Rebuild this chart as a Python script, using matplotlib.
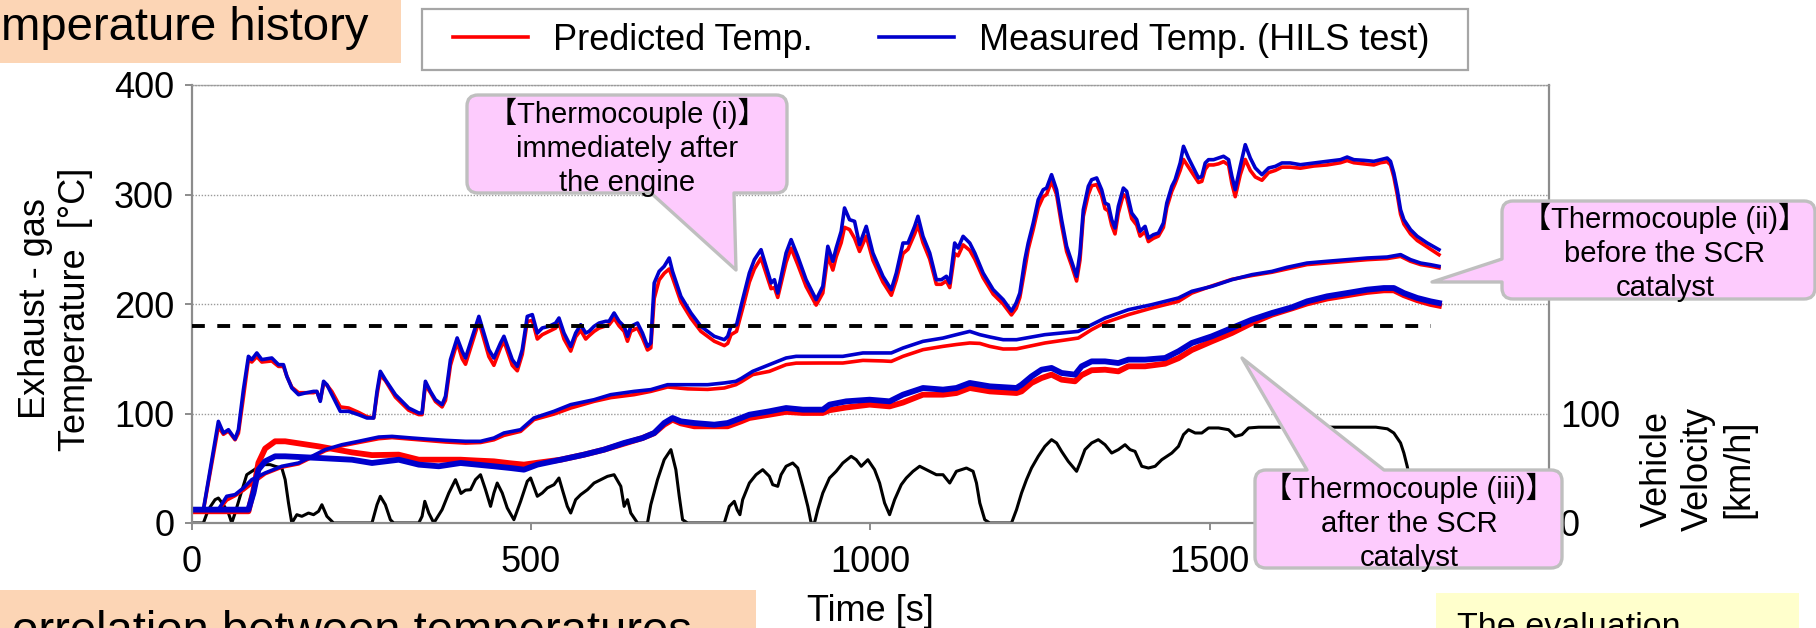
"""Exhaust-gas temperature history: predicted vs measured (HILS) at three thermocouples,
with vehicle velocity on the right axis.

Run:  python plot.py   ->  out.png (1816 x 628 px)
"""

import matplotlib

matplotlib.use("Agg")
import matplotlib.pyplot as plt
from matplotlib.patches import PathPatch, Rectangle
from matplotlib.path import Path

plt.rcParams["font.family"] = ["Liberation Sans", "Noto Sans CJK JP"]

W, H = 1816, 628  # canvas in px; layout numbers below are px from the top-left

# --- data: time [s] / temperature [degC] / velocity [km/h] ---
# Thermocouple (i): immediately after the engine
T_I = [0, 17.5, 39.6, 47, 54.4, 64.2, 69.1, 76.5, 83.9, 88.8,
       96.2, 103.6, 118.3, 128.2, 135.5, 140.5, 147.8, 157.7, 167.5, 179.8,
       184.7, 189.7, 194.6, 199.5, 206.9, 219.2, 231.5, 246.2, 258.5, 268.4,
       273.3, 278.2, 285.6, 300.4, 320, 334.8, 339.7, 344.6, 352, 359.4,
       369.2, 374.2, 381.5, 391.4, 398.8, 403.7, 423.4, 430.7, 438.1, 445.5,
       455.3, 460.3, 472.6, 480, 487.3, 494.7, 502.1, 509.5, 516.8, 526.7,
       536.5, 541.4, 548.8, 558.7, 566, 573.4, 580.8, 585.7, 593.1, 600.5,
       610.3, 615.2, 622.6, 630, 637.4, 642.3, 647.2, 657.1, 664.4, 671.8,
       676.7, 681.7, 689, 696.4, 703.8, 708.7, 721, 735.8, 750.5, 770.2,
       785, 790, 794.8, 803, 812, 821.9, 829.3, 839.1, 846.5, 853.9,
       858.8, 863.7, 876, 883.4, 893.2, 905.5, 920.3, 930.1, 937.5, 944.9,
       949.8, 957.2, 962.1, 969.5, 976.9, 984.2, 994.1, 1003.9, 1018.7, 1031,
       1038.4, 1048.2, 1055.6, 1065.4, 1070.3, 1077.7, 1087.6, 1097.4, 1104.8, 1112.2,
       1117.1, 1124.4, 1129.4, 1136.8, 1146.6, 1154, 1166.3, 1181.1, 1195.8, 1208,
       1215, 1220.4, 1227.8, 1232.7, 1240.1, 1247.5, 1254.8, 1259.8, 1267.1, 1274.5,
       1281.9, 1289.3, 1296.7, 1304, 1309, 1313.9, 1321.3, 1326.2, 1333.6, 1340.9,
       1345.9, 1350.8, 1355.7, 1360.6, 1365.5, 1372.9, 1377.8, 1385.2, 1392.6, 1397.5,
       1404.9, 1409.8, 1417.2, 1424.6, 1431.9, 1436.9, 1444.3, 1449.2, 1456.6, 1461.5,
       1468.9, 1476.2, 1483.6, 1488.5, 1493.5, 1498.4, 1505.8, 1513.1, 1520.5, 1527.9,
       1532.8, 1537.7, 1545.1, 1552.5, 1559.9, 1567.3, 1577.1, 1586.9, 1596.8, 1606.6,
       1618.9, 1633.7, 1653.4, 1673, 1692.7, 1702.6, 1712.4, 1727.2, 1741.9, 1751.8,
       1761.6, 1766.5, 1771.4, 1776.4, 1781.3, 1786.2, 1796, 1805.9, 1820.6, 1837.9]
MEAS_I = [12.2, 12.2, 92.8, 82.2, 85.2, 76.7, 85.2, 121.8, 152.2, 149.2,
          155.3, 149.2, 150.7, 144.6, 144.6, 133.9, 123.3, 117.2, 118.7, 120.2,
          120.2, 111.1, 129.4, 126.3, 117.2, 102, 102, 98.9, 95.9, 95.9,
          120.2, 138.5, 130.9, 117.2, 105, 100.5, 100.5, 129.4, 120.2, 112.6,
          108.1, 115.7, 149.2, 169, 156.8, 150.7, 188.7, 173.5, 158.3, 150.7,
          164.4, 170.5, 149.2, 143.1, 158.3, 188.7, 190.3, 173.5, 178.1, 179.6,
          182.6, 187.2, 173.5, 161.3, 173.5, 181.1, 173.5, 175, 179.6, 182.6,
          184.2, 184.2, 191.8, 184.2, 179.6, 170.5, 179.6, 182.6, 173.5, 161.3,
          164.4, 219.2, 229.8, 234.4, 242, 229.8, 207, 191.8, 179.6, 170.5,
          167.4, 170.5, 179.6, 181, 204, 228.3, 240.5, 249.6, 234.4, 219.2,
          222.2, 210, 246.6, 258.8, 243.5, 222.2, 204, 216.1, 252.7, 239,
          251.1, 266.4, 287.7, 277, 275.5, 254.2, 270.9, 246.6, 225.3, 213.1,
          228.3, 255.7, 255.7, 270.9, 280.1, 261.8, 246.6, 222.2, 222.2, 225.3,
          219.2, 255.7, 251.1, 261.8, 255.7, 246.6, 228.3, 213.1, 204, 193.5,
          201, 210, 240.5, 255.7, 274, 295.3, 304.4, 305.9, 318.1, 304.4,
          277, 252.7, 239, 225.3, 246.6, 286.1, 307.5, 313.5, 315.1, 304.4,
          292.2, 290.7, 277, 269.4, 289.2, 305.9, 302.9, 283.1, 277, 266.4,
          270.9, 260.3, 263.3, 264.8, 274, 292.2, 307.5, 313.5, 328.8, 344,
          333.3, 324.2, 315.1, 316.6, 328.8, 331.8, 331.8, 333.3, 334.9, 331.8,
          316.6, 304.4, 325.7, 345.5, 333.3, 324.2, 318.1, 324.2, 325.7, 328.8,
          328.8, 327.2, 328.8, 330.3, 331.8, 334.2, 331.8, 331.2, 330.3, 331.8,
          333.3, 330.3, 319.6, 304.4, 286.1, 277, 267.9, 261.8, 255.7, 249.6]
PRED_I = [11.5, 11.5, 88, 81, 84, 76, 82, 115, 149, 147,
          152, 147, 148, 143, 143, 134, 124, 119, 119, 119,
          120, 112, 127, 126, 120, 106, 105, 101, 97, 96,
          117, 135, 130, 115, 103, 99, 99, 126, 119, 111,
          106, 112, 144, 165, 150, 145, 184, 168, 152, 144,
          160, 166, 144, 139, 154, 184, 185, 168, 172, 175,
          178, 183, 168, 157, 170, 176, 168, 171, 175, 178,
          180, 181, 187, 180, 175, 166, 175, 178, 169, 158,
          160, 205, 222, 228, 232, 224, 202, 187, 175, 166,
          162, 164, 172, 175, 196, 220, 232, 242, 228, 214,
          215, 206, 238, 251, 236, 216, 199, 210, 244, 231,
          243, 256, 270, 268, 260, 248, 262, 240, 220, 208,
          222, 246, 250, 264, 272, 256, 241, 218, 218, 221,
          215, 246, 244, 254, 249, 241, 224, 209, 200, 190,
          196, 206, 232, 250, 268, 288, 298, 300, 312, 300,
          272, 248, 235, 221, 240, 280, 300, 308, 309, 299,
          287, 285, 272, 264, 283, 300, 297, 278, 272, 262,
          266, 257, 260, 262, 270, 288, 303, 310, 322, 332,
          325, 318, 311, 312, 323, 327, 327, 328, 330, 327,
          310, 298, 318, 332, 322, 316, 313, 320, 322, 325,
          325, 324, 326, 327, 329, 331, 329, 328, 327, 329,
          330, 327, 316, 300, 282, 273, 264, 258, 252, 245]

# Thermocouple (ii): before the SCR catalyst
T_II = [0, 39.6, 51.9, 64.2, 76.5, 88.8, 108.5, 133.1, 157.7, 177.4,
        197, 221.6, 246.2, 275.8, 295.4, 325, 344.6, 374.2, 403.7, 425.8,
        445.5, 460.3, 484.9, 504.5, 534.1, 558.7, 593.1, 617.7, 652.1, 676.7,
        701.4, 730.9, 760.4, 785, 802, 810, 826.8, 851.4, 876, 890.8,
        925.2, 959.6, 989.2, 1018.7, 1031, 1048.2, 1077.7, 1107.2, 1126.9, 1146.6,
        1161.4, 1176.1, 1195.8, 1215.5, 1257.3, 1306.5, 1326.2, 1345.9, 1380.3, 1414.7,
        1454.1, 1473.8, 1503.3, 1532.8, 1562.3, 1591.9, 1614, 1643.5, 1673, 1702.6,
        1732.1, 1761.6, 1781.3, 1796, 1810.8, 1825.6, 1837.9]
MEAS_II = [12.2, 12.2, 24.4, 25.9, 32, 39.6, 45.7, 51.8, 54.8, 60.9,
           67, 71.5, 74.6, 78.5, 79.1, 77.6, 76.7, 75.5, 74.6, 74.6,
           77.6, 82.2, 85.2, 95.9, 102, 108.1, 112.6, 117.2, 120.2, 121.8,
           126.3, 126.3, 126.3, 127.9, 129.4, 132, 138.5, 144.6, 150.7, 152.2,
           152.2, 152.2, 155.3, 155.3, 155.3, 159.8, 165.9, 168.9, 172, 175,
           172, 169.9, 167.4, 167.4, 172, 175, 181.1, 187.2, 194.8, 199.4,
           205.5, 211.6, 216.1, 222.2, 226.8, 229.8, 233.5, 237.4, 239, 240.5,
           242, 242.9, 245.1, 240.5, 237.4, 235.9, 234.4]
PRED_II = [11.5, 11.5, 21, 25, 30, 36, 45, 51, 54, 60,
           66, 70.5, 73.5, 77, 78, 76.5, 75.5, 74, 73, 73.5,
           76, 80, 83.7, 94.4, 99.5, 105, 111.1, 114.5, 117.2, 120.2,
           124.2, 122.5, 122, 123.3, 126.3, 129, 135.5, 138.5, 144.6, 146,
           146.1, 146.1, 148.5, 148, 147.6, 152.2, 158.3, 161.3, 163, 164.4,
           164, 161.3, 158.9, 159, 164.4, 168.9, 176.6, 183, 190.3, 196.3,
           202.4, 210, 216.5, 222.5, 226, 229, 232, 236, 237.5, 239,
           240.5, 241.5, 243.5, 239, 236, 234.5, 233]

# Thermocouple (iii): after the SCR catalyst
T_III = [0, 83.9, 91.3, 98.6, 108.5, 123.2, 138, 187.2, 236.4, 265.9,
         305.3, 334.8, 364.3, 396.3, 420.9, 445.5, 470.1, 489.8, 509.5, 543.9,
         578.3, 607.9, 637.4, 664.4, 681.7, 696.4, 708.7, 721, 740.7, 770.2,
         789.9, 809.6, 821.9, 851.4, 876, 900.6, 930.1, 940, 964.6, 999,
         1028.5, 1048.2, 1077.7, 1107.2, 1126.9, 1146.6, 1176.1, 1215.5, 1222.9, 1237.6,
         1252.4, 1267.1, 1281.9, 1301.6, 1311.4, 1326.2, 1345.9, 1365.5, 1380.3, 1404.9,
         1434.4, 1454.1, 1473.8, 1503.3, 1532.8, 1562.3, 1591.9, 1621.4, 1643.5, 1673,
         1702.6, 1732.1, 1756.7, 1771.4, 1786.2, 1805.9, 1825.6, 1837.9]
MEAS_III = [12.2, 12.2, 27.4, 48.7, 56.3, 60.9, 60.9, 59.4, 57.8, 54.8,
            57.8, 53.3, 51.8, 54.8, 53.3, 51.8, 50.2, 48.7, 53.3, 57.8,
            62.4, 67, 73.1, 77.6, 82.2, 91.3, 95.9, 92.8, 91.3, 89.8,
            91.3, 95.9, 98.9, 102, 105, 103.5, 103.5, 108.1, 111.1, 112.6,
            111.1, 117.2, 123.3, 121.8, 123.3, 127.9, 124.8, 123.3, 126.3, 133.9,
            140, 141.6, 137, 135.5, 143.1, 147.6, 147.6, 146.1, 149.2, 149.2,
            150.7, 156.8, 164.4, 170.5, 178.1, 185.7, 191.8, 197, 202.4, 207,
            210, 213.1, 214.6, 214.6, 210, 205.5, 202.4, 200.9]
PRED_III = [10.7, 10.7, 30, 55, 68, 74.6, 74.6, 70, 64.5, 62,
            62.4, 57.8, 57.8, 57.8, 57, 56.3, 54.5, 53.3, 55, 57.8,
            62.4, 67, 72.5, 77.6, 82, 89.8, 94.4, 91, 88.3, 88.3,
            88.3, 92.8, 95.9, 98.9, 101.5, 100.5, 100.5, 103, 105.5, 108.1,
            106.5, 110, 117.2, 117.2, 118.7, 123.3, 120.2, 118.7, 120.2, 127.9,
            132.4, 135.5, 130.9, 129.4, 135, 139.5, 140, 138.5, 143.1, 143.1,
            145.5, 150.5, 158, 165.9, 173.5, 182.6, 190.3, 196, 200.5, 205,
            208, 211, 212.5, 212.5, 208, 203.5, 200, 198.5]

# Vehicle velocity [km/h]
T_V = [0, 17.5, 24.8, 34.7, 39.6, 47, 54.4, 59.3, 64.2, 71.6,
       81.4, 88.8, 96.2, 106, 115.9, 123.2, 133.1, 138, 142.9, 147.8,
       155.2, 162.6, 172.4, 179.8, 187.2, 192.1, 199.5, 209.3, 265.9, 273.3,
       278.2, 285.6, 293, 297.9, 334.8, 339.7, 343.7, 349.6, 357, 369.2,
       379.1, 388.9, 397, 403.7, 411.1, 418.4, 425.8, 433.2, 440.6, 445.5,
       450.4, 457.8, 465.2, 475, 484.9, 494.7, 499.6, 509.5, 516.8, 524.2,
       534.1, 541.4, 546.4, 553.7, 558.7, 566, 573.4, 583.3, 593.1, 603,
       612.8, 622.6, 632.5, 637.4, 642.3, 647.2, 657.1, 671.8, 676.7, 686.6,
       696.4, 706.3, 713.6, 718.6, 723.5, 730.9, 785, 792.4, 799.7, 804,
       808, 812, 821.9, 831.7, 841.6, 851.4, 856.3, 863.7, 868.6, 876,
       885.8, 893.2, 900.6, 908, 912.9, 917.8, 922.7, 930.1, 940, 949.8,
       959.6, 971.9, 979.3, 986.7, 996.5, 1006.4, 1013.8, 1021.1, 1028.5, 1035.9,
       1045.7, 1053.1, 1063, 1072.8, 1082.6, 1097.4, 1107.2, 1117.1, 1126.9, 1141.7,
       1151.5, 1156.5, 1161.4, 1168.7, 1176.1, 1208.1, 1215.5, 1222.9, 1230.2, 1237.6,
       1247.5, 1257.3, 1267.1, 1274.5, 1281.9, 1291.7, 1304, 1309, 1316.3, 1326.2,
       1336, 1345.9, 1355.7, 1365.5, 1375.4, 1382.8, 1390.1, 1400, 1409.8, 1419.7,
       1429.5, 1444.3, 1454.1, 1461.5, 1468.9, 1478.7, 1488.5, 1498.4, 1513.1, 1527.9,
       1537.7, 1547.6, 1557.4, 1572.2, 1614, 1700, 1745, 1762, 1771.4, 1781.3,
       1786.2, 1791.1, 1800, 1808]
VEL = [0, 0, 12.2, 21.3, 22.8, 16.7, 9.1, 0, 9.1, 24.4,
       44.1, 47.2, 50.2, 53.3, 53.3, 51.8, 50.2, 39.6, 18.3, 0,
       7.6, 6.1, 9.1, 7.6, 10.7, 16.7, 6.1, 0, 0, 16.7,
       24.4, 16.7, 3, 0, 0, 6.1, 19.8, 9.1, 0, 12.2,
       27.4, 39.6, 27, 30, 30.4, 39.6, 44.1, 30.4, 15.2, 27.4,
       36.5, 27.4, 13.7, 3, 19.8, 38.1, 41.1, 24.4, 27.4, 32,
       35, 41.1, 30.4, 15.2, 9.1, 21.3, 25.9, 30.4, 36.5, 39.6,
       42.6, 44.1, 33.5, 15.2, 21.3, 9.1, 0, 0, 16.7, 39.6,
       57.8, 67, 48.7, 24.4, 3, 0, 0, 15.2, 19.8, 12,
       7.6, 21.3, 36.5, 44.1, 48.7, 42.6, 35, 33.5, 44.1, 51.8,
       54.8, 50.2, 33.5, 15.2, 0, 0, 12.2, 27.4, 41.1, 47.2,
       54.8, 60.9, 57.8, 51.8, 57.8, 48.7, 36.5, 18.3, 7.6, 21.3,
       35, 41.1, 47.2, 51.8, 48.7, 44.1, 44.1, 36.5, 47.2, 50.2,
       47.2, 36.5, 18.3, 3, 0, 0, 12.2, 27.4, 39.6, 50.2,
       60.9, 70, 76.1, 73.1, 65.4, 56.3, 47.2, 54.8, 67, 73.1,
       76.1, 71.5, 63.9, 67, 71.5, 67, 65.4, 51.8, 50.2, 51.8,
       57.8, 63.9, 70, 80.7, 85.2, 82.2, 82.2, 86.8, 86.8, 85.2,
       79.1, 80.7, 86.8, 87.5, 87.5, 87.5, 87.5, 86, 82.2, 73.1,
       63.9, 51.8, 25, 0]

THRESHOLD = 180          # dashed reference temperature
THRESHOLD_SPAN = [0, 1826]

RED, BLUE = "#FF0000", "#0000CC"
PINK, PINK_EDGE = "#FDCBFD", "#BFBFBF"
PEACH, LEMON = "#FCD5B5", "#FFFFCC"
AXGREY = "#8C8C8C"


def fx(x):
    return x / W


def fy(y):
    return 1 - y / H


def callout_path(x0, y0, x1, y1, edge, a, b, tip, r=11):
    """Rounded box (px, y down) with a wedge pointer cut into one edge."""
    L, C = Path.LINETO, Path.CURVE3
    segs = [(Path.MOVETO, (x0 + r, y0))]
    if edge == "top":
        segs += [(L, (a, y0)), (L, tip), (L, (b, y0))]
    segs += [(L, (x1 - r, y0)), (C, (x1, y0)), (C, (x1, y0 + r)),
             (L, (x1, y1 - r)), (C, (x1, y1)), (C, (x1 - r, y1))]
    if edge == "bottom":
        segs += [(L, (b, y1)), (L, tip), (L, (a, y1))]
    segs += [(L, (x0 + r, y1)), (C, (x0, y1)), (C, (x0, y1 - r))]
    if edge == "left":
        segs += [(L, (x0, b)), (L, tip), (L, (x0, a))]
    segs += [(L, (x0, y0 + r)), (C, (x0, y0)), (C, (x0 + r, y0)),
             (Path.CLOSEPOLY, (x0 + r, y0))]
    return Path([(fx(x), fy(y)) for _, (x, y) in segs], [c for c, _ in segs])


def main() -> None:
    fig = plt.figure(figsize=(W / 100, H / 100), dpi=100)
    ax = fig.add_axes([fx(191.5), fy(523), (1549 - 191.5) / W, (523 - 85) / H])
    ax2 = ax.twinx()
    ax.set_zorder(ax2.get_zorder() + 1)
    ax.patch.set_visible(False)

    # velocity underneath the temperature traces
    ax2.plot(T_V, VEL, color="black", lw=2.2, solid_joinstyle="round")

    lw_thin, lw_thick = 2.6, 4.2
    h_pred, = ax.plot(T_I, PRED_I, color=RED, lw=lw_thin)
    ax.plot(T_II, PRED_II, color=RED, lw=lw_thin)
    ax.plot(T_III, PRED_III, color=RED, lw=lw_thick)
    h_meas, = ax.plot(T_I, MEAS_I, color=BLUE, lw=lw_thin)
    ax.plot(T_II, MEAS_II, color=BLUE, lw=lw_thin)
    ax.plot(T_III, MEAS_III, color=BLUE, lw=lw_thick)
    ax.plot(THRESHOLD_SPAN, [THRESHOLD, THRESHOLD], color="black", lw=2.8,
            dashes=(3.3, 3.2), zorder=3)

    for a in (ax, ax2):
        a.set_xlim(0, 2000)
        a.set_ylim(0, 400)
    ax.set_xticks([0, 500, 1000, 1500])
    ax.set_yticks([0, 100, 200, 300, 400])
    ax2.set_yticks([0, 100])

    ax.set_axisbelow(True)
    ax.yaxis.grid(True, linestyle=(0, (1, 1.2)), color="#9A9A9A", lw=1.0)
    for side in ("left", "bottom"):
        ax.spines[side].set_color(AXGREY)
        ax.spines[side].set_linewidth(1.6)
    ax.spines["right"].set_visible(False)
    ax.spines["top"].set_linestyle((0, (1, 1.2)))
    ax.spines["top"].set_color("#9A9A9A")
    ax.spines["top"].set_linewidth(1.0)
    for side in ("left", "bottom", "top"):
        ax2.spines[side].set_visible(False)
    ax2.spines["right"].set_color(AXGREY)
    ax2.spines["right"].set_linewidth(1.6)

    ax.tick_params(axis="both", direction="out", length=5, width=1.4,
                   color=AXGREY, labelsize=26)
    ax.tick_params(axis="x", pad=10.5)
    ax.tick_params(axis="y", pad=7.5)
    ax2.tick_params(axis="y", length=0, pad=8, labelsize=26)

    ax.set_xlabel("Time [s]", fontsize=26)
    ax.xaxis.set_label_coords(0.5, (523 - 594) / 438)
    fig.text(fx(55.5), fy(309), "Exhaust - gas\nTemperature  [°C]", rotation=90,
             ha="center", va="center", multialignment="center", fontsize=26)
    fig.text(fx(1698), fy(469), "Vehicle\nVelocity\n[km/h]", rotation=90,
             ha="center", va="center", multialignment="center", fontsize=26)

    # legend in its own grey frame above the plot
    fig.add_artist(Rectangle((fx(422), fy(70)), (1468 - 422) / W, 61 / H,
                             transform=fig.transFigure, facecolor="white",
                             edgecolor="#A6A6A6", lw=1.6, zorder=4))
    fig.legend([h_pred, h_meas], ["Predicted Temp.", "Measured Temp. (HILS test)"],
               loc="center left", bbox_to_anchor=(fx(453), fy(40)), frameon=False,
               ncol=2, fontsize=26, borderpad=0, borderaxespad=0,
               handlelength=2.08, handletextpad=0.69, columnspacing=1.83)

    # slide fragments around the chart (cut off by the crop, as in the source)
    fig.add_artist(Rectangle((0, fy(63)), 401 / W, 63 / H, transform=fig.transFigure,
                             facecolor=PEACH, edgecolor="none", zorder=4))
    fig.text(fx(1), fy(40), "mperature history", fontsize=34, va="baseline", zorder=6)
    fig.add_artist(Rectangle((0, 0), 756 / W, (H - 590) / H, transform=fig.transFigure,
                             facecolor=PEACH, edgecolor="none", zorder=4))
    fig.text(fx(12), fy(644), "orrelation between temperatures", fontsize=34,
             va="baseline", zorder=6)
    fig.add_artist(Rectangle((fx(1436), 0), (1799 - 1436) / W, (H - 593) / H,
                             transform=fig.transFigure, facecolor=LEMON,
                             edgecolor="none", zorder=4))
    fig.text(fx(1457), fy(636), "The evaluation", fontsize=24.5, va="baseline", zorder=6)

    # thermocouple callouts
    callouts = [
        ((467, 95, 787, 193, "bottom", 651, 734, (736, 270)), (627, 147),
         "【Thermocouple (i)】\nimmediately after\nthe engine"),
        ((1502, 201, 1815, 299, "left", 259, 282, (1432, 282)), (1665, 252),
         "【Thermocouple (ii)】\nbefore the SCR\ncatalyst"),
        ((1255, 470, 1562, 568, "top", 1307, 1384, (1242, 358)), (1409, 522),
         "【Thermocouple (iii)】\nafter the SCR\ncatalyst"),
    ]
    for shape, (tx, ty), label in callouts:
        fig.add_artist(PathPatch(callout_path(*shape), transform=fig.transFigure,
                                 facecolor=PINK, edgecolor=PINK_EDGE, lw=2.4,
                                 joinstyle="round", zorder=5))
        fig.text(fx(tx), fy(ty), label, ha="center", va="center",
                 multialignment="center", fontsize=21, linespacing=1.27, zorder=6)

    fig.savefig("out.png", dpi=100)


if __name__ == "__main__":
    main()
